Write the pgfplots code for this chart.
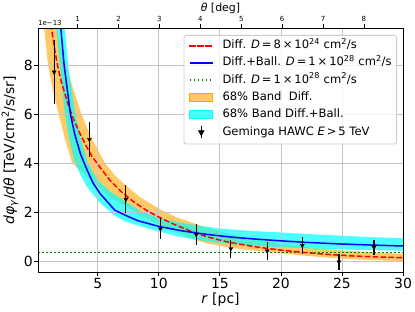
\documentclass[border=0pt]{standalone}
\usepackage{pgfplots}
\usepackage{pgfplotstable}
\pgfplotsset{compat=1.18}
\usepackage{fontspec}
\setmainfont{DejaVu Sans}
\definecolor{bandorange}{RGB}{255,165,0}
\definecolor{bandcyan}{RGB}{0,255,255}
\definecolor{mplgreen}{RGB}{0,128,0}
\definecolor{mplred}{RGB}{255,0,0}
\definecolor{mplblue}{RGB}{0,0,255}
\definecolor{gridc}{RGB}{176,176,176}
\definecolor{legedge}{RGB}{204,204,204}

\pgfplotstableread{
r y e
1.42 7.72 1.32
4.31 4.97 0.70
7.30 2.53 0.56
10.13 1.32 0.43
13.06 1.09 0.42
15.90 0.51 0.36
18.88 0.42 0.37
21.75 0.64 0.33
24.75 -0.03 0.31
27.62 0.57 0.30
}\hawc

\begin{document}
\begin{tikzpicture}
% bands (below grid)
\begin{axis}[at={(0,0)}, anchor=south west, scale only axis, width=365bp, height=244.7bp,
  xmin=0.1, xmax=30, ymin=-0.47, ymax=9.52, hide axis]
\addplot[draw=none, fill=bandorange, fill opacity=0.6] coordinates {
(1.55,10.0) (1.65,9.52) (2.0,8.7) (2.43,8.0) (3.0,7.0) (3.66,6.0) (4.5,5.0) (5.6,4.0) (6.4,3.5) (7.24,3.11) (8.5,2.6) (10.1,2.12) (11.5,1.78) (13,1.52) (15,1.22) (17,0.97) (20,0.70) (22.5,0.55) (25,0.44) (27.5,0.36) (30.5,0.29)
(30.5,0.0) (27.5,0.04) (25,0.1) (22.5,0.2) (19.9,0.32) (17.5,0.45) (15.84,0.55) (14,0.72) (13,0.86) (11.5,1.15) (10.1,1.48) (8.5,1.85) (7.24,2.25) (6.0,2.6) (5.0,3.05) (4.0,3.5) (2.9,4.0) (2.3,5.0) (1.8,6.0) (1.3,7.0) (0.93,8.0) (0.6,9.52) (0.5,10.0)
} --cycle;
\addplot[draw=none, fill=bandcyan, fill opacity=0.7] coordinates {
(2.22,10.0) (2.3,9.52) (2.57,8.0) (2.85,7.0) (3.17,6.0) (3.6,5.0) (4.2,4.0) (5.0,3.3) (6.0,2.85) (7.24,2.45) (8.5,2.05) (10.1,1.75) (12,1.55) (13,1.47) (15,1.33) (17.5,1.24) (20,1.17) (22.5,1.1) (25,1.04) (27.5,0.98) (30.5,0.93)
(30.5,0.43) (27.5,0.45) (25,0.48) (22.5,0.52) (20,0.57) (17.5,0.64) (15,0.74) (13,0.88) (11.5,1.02) (10.1,1.2) (8.5,1.42) (7.24,1.62) (6.4,1.85) (5.2,2.37) (4.4,2.85) (4.1,3.05) (3.6,3.5) (3.06,4.1) (2.65,5.0) (2.3,6.0) (2.1,7.0) (1.88,8.0) (1.6,9.52) (1.55,10.0)
} --cycle;
\end{axis}
% main axis
\begin{axis}[name=ax, at={(0,0)}, anchor=south west, scale only axis, width=365bp, height=244.7bp,
  xmin=0.1, xmax=30, ymin=-0.47, ymax=9.52,
  xtick={5,10,15,20,25,30}, ytick={0,2,4,6,8},
  grid=major, grid style={gridc!75, line width=0.8bp},
  axis line style={line width=0.8bp},
  tick align=outside, tick pos=left, major tick length=3.5bp,
  every tick/.style={black, line width=0.8bp},
  /pgf/number format/assume math mode=true,
  tick label style={font=\fontsize{14}{16}\selectfont},
  xticklabel style={inner ysep=2bp},
  yticklabel style={inner xsep=1.5bp},
  xlabel={\textit{r} [pc]},
  ylabel={\textit{dφ}\textsubscript{\textit{γ}}/\textit{dθ} [TeV/cm\textsuperscript{2}/s/sr]},
  xlabel style={font=\fontsize{14}{16}\selectfont, at={(axis description cs:0.5,-0.112)}, anchor=center},
  ylabel style={font=\fontsize{14}{16}\selectfont, at={(axis description cs:-0.0767,0.5)}, anchor=center},
  legend image code/.code={\draw[sharp corners,#1] (0bp,0bp) -- (23bp,0bp);},
  legend style={at={(rel axis cs:0.9836,0.9714)}, anchor=north east, draw=legedge, line width=0.8bp,
    rounded corners=2.5bp, fill=white, fill opacity=0.8, draw opacity=1, text opacity=1,
    font=\fontsize{11.6}{13.5}\selectfont, inner xsep=5bp, inner ysep=5bp, row sep=6.2bp, column sep=9bp,
    nodes={inner sep=0pt, text height=8.5bp, text depth=2.4bp, anchor=west}},
  legend cell align=left,
]
\addlegendimage{legend image code/.code={\fill[mplred, fill opacity=1, sharp corners] (0bp,-0.75bp) rectangle (5.55bp,0.75bp) (7.95bp,-0.75bp) rectangle (13.5bp,0.75bp) (15.9bp,-0.75bp) rectangle (21.45bp,0.75bp);}}
\addlegendentry{Diff. \textit{D}\,=\,8\,×\,10\textsuperscript{24} cm\textsuperscript{2}/s}
\addlegendimage{mplblue, line width=1.5bp}
\addlegendentry{Diff.+Ball. \textit{D}\,=\,1\,×\,10\textsuperscript{28} cm\textsuperscript{2}/s}
\addlegendimage{mplgreen, line width=1.5bp, dash pattern=on 1.5bp off 2.5bp}
\addlegendentry{Diff. \textit{D}\,=\,1\,×\,10\textsuperscript{28} cm\textsuperscript{2}/s}
\addlegendimage{legend image code/.code={\fill[bandorange, fill opacity=0.6, sharp corners] (0bp,-4.2bp) rectangle (23bp,4.2bp);}}
\addlegendentry{68\% Band\ \ Diff.}
\addlegendimage{legend image code/.code={\fill[bandcyan, fill opacity=0.7, sharp corners] (0bp,-4.2bp) rectangle (23bp,4.2bp);}}
\addlegendentry{68\% Band Diff.+Ball.}
\addlegendimage{legend image code/.code={\draw[black, line width=1.2bp, sharp corners] (11.5bp,-6bp) -- (11.5bp,6bp); \fill[black, fill opacity=1, sharp corners] (11.5bp,-3bp) -- (8.8bp,1.8bp) -- (14.2bp,1.8bp) -- cycle;}}
\addlegendentry{Geminga HAWC \textit{E}\,>\,5 TeV}

\addplot[forget plot, mplgreen, line width=1.5bp, dash pattern=on 1.5bp off 2.5bp] coordinates {(0.1,0.35) (30,0.35)};
\addplot[forget plot, mplred, line width=1.5bp, dash pattern=on 5.5bp off 2.4bp] coordinates {
(1.1,10.0) (1.2,9.52) (1.5,8.55) (1.7,8.0) (2.0,7.35) (2.5,6.5) (3.0,5.8) (3.5,5.25) (4.0,4.75) (4.5,4.3) (5.0,3.95) (6.0,3.3) (7.0,2.8) (8.0,2.4) (9.0,2.07) (10.0,1.8) (11.0,1.56) (12.0,1.35) (13.0,1.15) (14.0,0.99) (15.0,0.86) (16.0,0.75) (18.0,0.58) (20.0,0.45) (22.0,0.35) (24.0,0.27) (26.0,0.21) (28.0,0.17) (30.0,0.14)};
\addplot[forget plot, mplblue, line width=1.5bp] coordinates {
(1.9,10.0) (1.97,9.52) (2.24,8.0) (2.5,7.0) (2.76,6.0) (3.1,5.2) (3.6,4.35) (4.1,3.75) (4.6,3.2) (5.2,2.75) (6.4,2.08) (7.5,1.82) (8.3,1.65) (10,1.42) (12,1.23) (14,1.09) (16,0.98) (18,0.9) (20,0.83) (22,0.77) (25,0.70) (28,0.65) (30,0.62)};
\addplot[forget plot, black, only marks, mark=triangle*, mark size=2.3bp, mark options={rotate=180, fill=black},
  error bars/.cd, y dir=both, y explicit, error bar style={line width=1.2bp, black}, error mark=none]
  table[x=r, y=y, y error=e]{\hawc};
\end{axis}
% top axis
\begin{axis}[at={(0,0)}, anchor=south west, scale only axis, width=365bp, height=244.7bp,
  xmin=0.1, xmax=30, ymin=0, ymax=1, axis x line*=top, axis y line=none,
  xtick={3.35,6.7,10.05,13.4,16.75,20.1,23.45,26.8}, xticklabels={1,2,3,4,5,6,7,8},
  tick align=outside, major tick length=3.5bp, every tick/.style={black, line width=0.8bp},
  axis line style={line width=0.8bp},
  /pgf/number format/assume math mode=true,
  xticklabel style={font=\fontsize{7}{8}\selectfont, inner ysep=2.5bp}]
\addplot[draw=none] coordinates {(1,0.5)};
\end{axis}
\node[font=\fontsize{7}{8}\selectfont, anchor=south west, inner sep=0pt] at ([yshift=2bp]ax.north west) {1e−13};
\node[font=\fontsize{11}{13}\selectfont, anchor=center] at ([yshift=19.5bp]ax.north) {\textit{θ} [deg]};
\pgfresetboundingbox
\path ([xshift=-38bp,yshift=-39.3bp]ax.south west) rectangle ([xshift=12bp,yshift=28bp]ax.north east);
\end{tikzpicture}
\end{document}
